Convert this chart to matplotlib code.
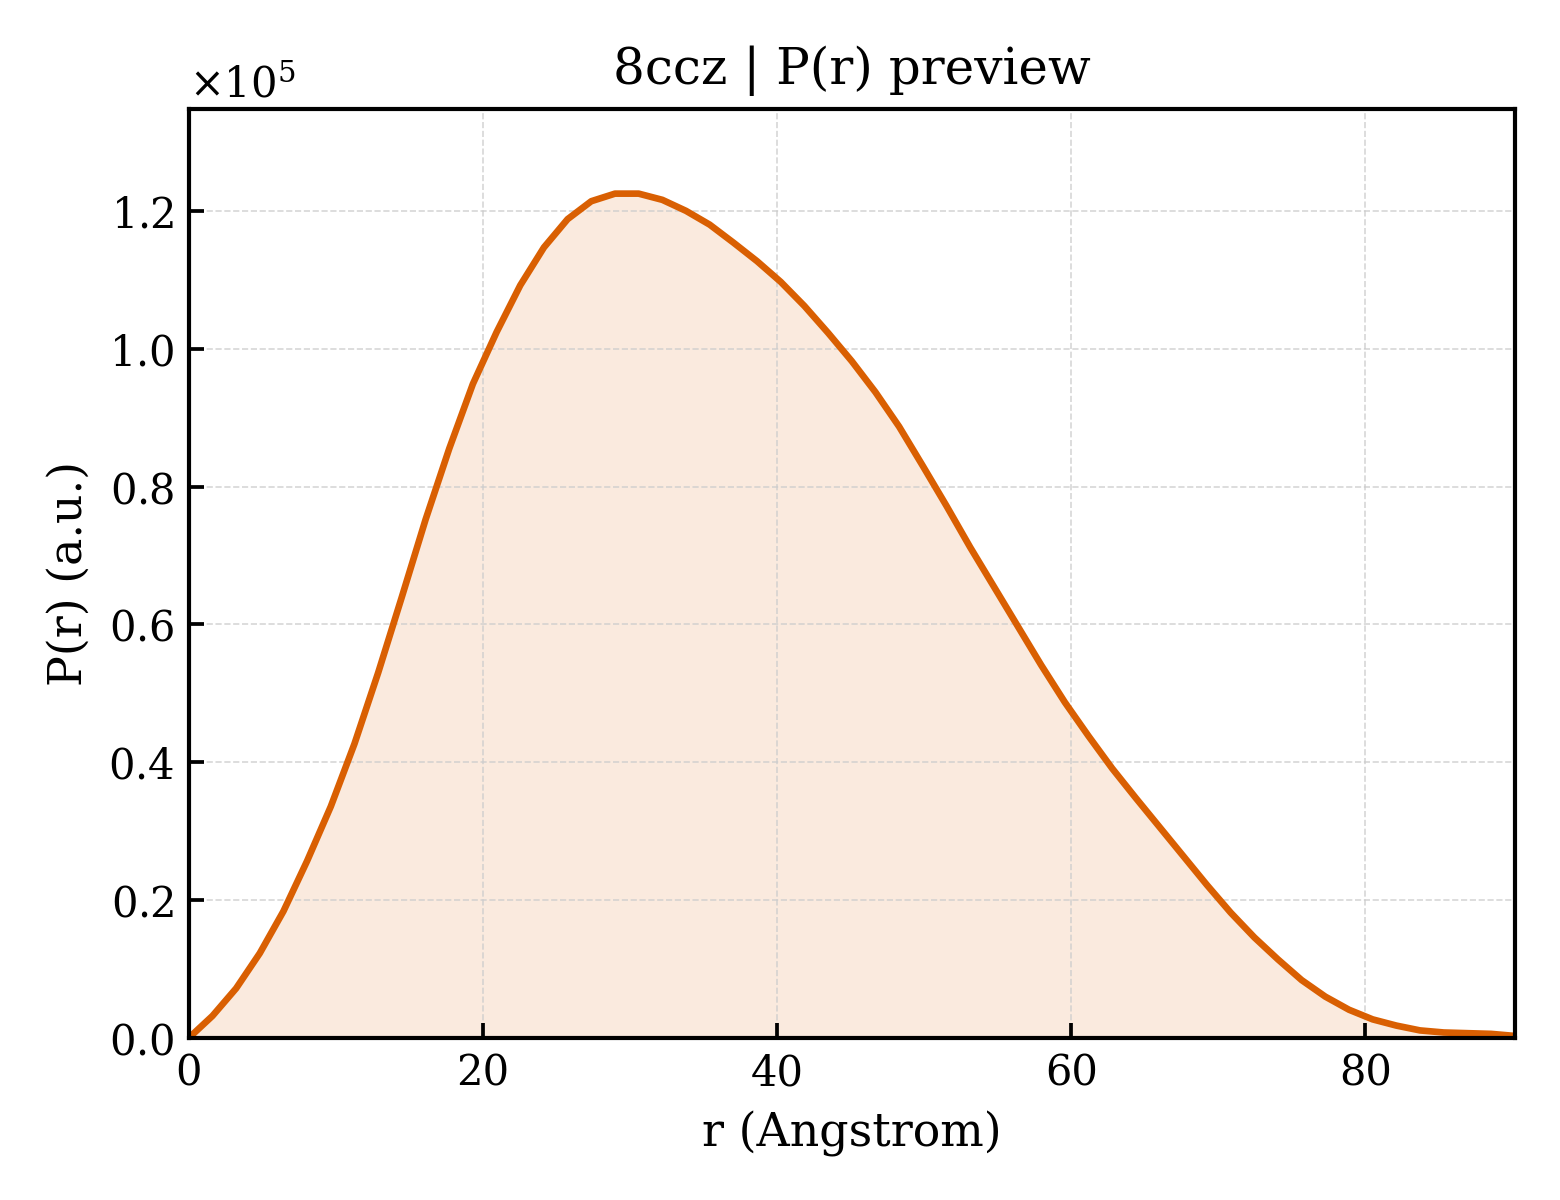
import numpy as np
import matplotlib
matplotlib.use('Agg')
import matplotlib.pyplot as plt

r = [0.00, 1.61, 3.22, 4.83, 6.44, 8.05, 9.66, 11.27, 12.88, 14.49,
     16.10, 17.71, 19.32, 20.93, 22.54, 24.15, 25.76, 27.37, 28.98, 30.59,
     32.20, 33.81, 35.42, 37.03, 38.64, 40.25, 41.86, 43.47, 45.08, 46.69,
     48.30, 49.91, 51.52, 53.13, 54.74, 56.35, 57.96, 59.57, 61.18, 62.79,
     64.40, 66.01, 67.62, 69.23, 70.84, 72.45, 74.06, 75.67, 77.28, 78.89,
     80.50, 82.11, 83.72, 85.33, 86.94, 88.55, 90.16]
pr = [0.000, 0.032, 0.072, 0.123, 0.184, 0.257, 0.336, 0.427, 0.530, 0.640,
      0.752, 0.855, 0.949, 1.024, 1.092, 1.147, 1.188, 1.214, 1.225, 1.225,
      1.216, 1.200, 1.180, 1.154, 1.127, 1.097, 1.062, 1.023, 0.982, 0.937,
      0.887, 0.830, 0.772, 0.712, 0.655, 0.598, 0.541, 0.487, 0.438, 0.391,
      0.348, 0.306, 0.264, 0.222, 0.182, 0.146, 0.114, 0.084, 0.060, 0.041,
      0.027, 0.018, 0.011, 0.008, 0.007, 0.006, 0.003]

r = np.array(r)
pr = np.array(pr) * 1e5

plt.rcParams['font.family'] = 'DejaVu Serif'
plt.rcParams['mathtext.fontset'] = 'dejavuserif'

fig, ax = plt.subplots(figsize=(5.2, 4), dpi=300)
fig.subplots_adjust(left=0.121, right=0.971, bottom=0.135, top=0.909)

col = '#D95F02'
ax.fill_between(r, pr, 0, color=col, alpha=0.13, linewidth=0)
ax.plot(r, pr, color=col, lw=1.6)

ax.set_xlim(0, r[-1])
ax.set_ylim(0, pr.max() * 1.1)
ax.set_xlabel('r (Angstrom)', fontsize=11)
ax.set_ylabel('P(r) (a.u.)', fontsize=11)
ax.set_title('8ccz | P(r) preview', fontsize=12)

ax.ticklabel_format(axis='y', style='sci', scilimits=(0, 0), useMathText=True)
ax.tick_params(direction='in', length=3.5, width=0.9, labelsize=10)
ax.grid(True, ls='--', lw=0.4, color='#cccccc', alpha=0.8)
for s in ax.spines.values():
    s.set_linewidth(1.0)

plt.savefig('out.png', dpi=300)
